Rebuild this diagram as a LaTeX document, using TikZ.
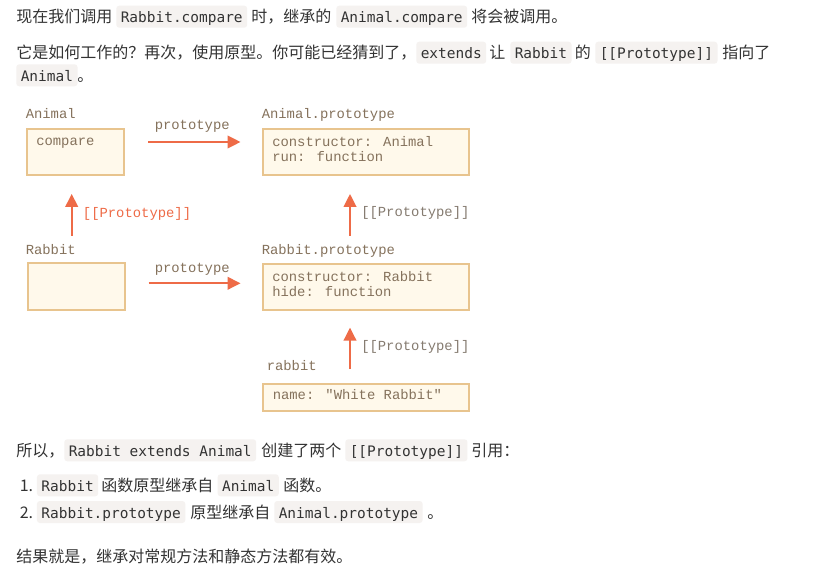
\documentclass[tikz,border=0pt]{standalone}
\usepackage{fontspec}
\setmainfont{Noto Sans CJK SC}
\newfontfamily\cjkf{Noto Sans CJK SC}
\newfontfamily\codef{DejaVu Sans Mono}
\newfontfamily\dgf{Liberation Mono}
\usetikzlibrary{arrows.meta,calc}
\definecolor{textc}{HTML}{333333}
\definecolor{codebg}{HTML}{F5F2F0}
\definecolor{boxfill}{HTML}{FFF9EB}
\definecolor{boxline}{HTML}{E8C48E}
\definecolor{arrc}{HTML}{EE6B47}
\definecolor{dgtext}{HTML}{85725C}
\definecolor{dggray}{HTML}{857B70}
\begin{document}
\begin{tikzpicture}[x=0.75pt,y=-0.75pt,
  txt/.style={anchor=base west,inner sep=0pt,font=\cjkf\fontsize{12pt}{14pt}\selectfont,text=textc},
  code/.style={anchor=base west,inner xsep=3.375pt,inner ysep=0pt,text height=12.75pt,text depth=3.75pt,fill=codebg,rounded corners=2.25pt,font=\codef\fontsize{10.85pt}{13pt}\selectfont,text=textc},
  dlabel/.style={anchor=base west,inner sep=0pt,font=\dgf\fontsize{10.4pt}{12pt}\selectfont,text=dgtext},
  plabel/.style={dlabel,text=dggray},
  rlabel/.style={dlabel,text=arrc},
  objbox/.style={draw=boxline,fill=boxfill,line width=1.5pt,anchor=north west,inner sep=0pt},
  arr/.style={draw=arrc,line width=1.5pt,-{Triangle[length=9.75pt,width=9.5pt]}}]
\fill[white] (0,0) rectangle (838,573);
\useasboundingbox (0,0) rectangle (838,573);

% ---- top paragraph
\node[txt] (t1) at (16,22.7) {现在我们调用};
\node[code] (c1) at (116,22.7) {Rabbit.compare};
\node[txt] (t2) at (251,22.7) {时，继承的};
\node[code] (c2) at (336,22.7) {Animal.compare};
\node[txt] (t3) at (471,22.7) {将会被调用。};

\node[txt] (t4) at (16,58.7) {它是如何工作的？再次，使用原型。你可能已经猜到了，};
\node[code] (c3) at (416,58.7) {extends};
\node[txt] (t5) at (489,58.7) {让};
\node[code] (c4) at (510,58.7) {Rabbit};
\node[txt] (t6) at (574.5,58.7) {的};
\node[code] (c5) at (595,58.7) {[[Prototype]]};
\node[txt] (t7) at (722,58.7) {指向了};
\node[code] (c6) at (16,81.3) {Animal};
\node[txt] (t8) at (77,81.3) {。};

% ---- diagram boxes
\node[objbox,minimum width=73pt,minimum height=34.7pt] (A) at (26,127.7) {};
\node[objbox,minimum width=154.5pt,minimum height=34.7pt] (AP) at (261.7,127.7) {};
\node[objbox,minimum width=73pt,minimum height=35pt] (R) at (26.5,262.3) {};
\node[objbox,minimum width=154.5pt,minimum height=34.7pt] (RP) at (261.7,262.7) {};
\node[objbox,minimum width=154.5pt,minimum height=20.25pt] (r) at (261.7,382.7) {};

% labels above boxes
\node[dlabel] (lA) at (25.5,119) {Animal};
\node[dlabel] (lAP) at (261.5,119) {Animal.prototype};
\node[dlabel] (lR) at (25.5,255) {Rabbit};
\node[dlabel] (lRP) at (261.5,255) {Rabbit.prototype};
\node[dlabel] (lr) at (266.5,370.7) {rabbit};

% box contents
\node[dlabel] (xA) at (36,146) {compare};
\node[dlabel] (xAP1) at (272,146.7) {constructor: Animal};
\node[dlabel] (xAP2) at (272,161.7) {run: function};
\node[dlabel] (xRP1) at (272,281.7) {constructor: Rabbit};
\node[dlabel] (xRP2) at (272,296.7) {hide: function};
\node[dlabel] (xr) at (272.5,399.3) {name: "White Rabbit"};

% arrows
\draw[arr] ($(A.north east)+(22.7,14.3)$) -- ($(AP.north west)+(-21.2,14.3)$);
\draw[arr] ($(R.north east)+(22.7,21)$) -- ($(RP.north west)+(-21.2,20.6)$);
\draw[arr] ($(R.north west)+(45.2,-26.3)$) -- ($(A.south west)+(45.7,18)$);
\draw[arr] ($(RP.north west)+(88.3,-26.7)$) -- ($(AP.south west)+(88.3,18)$);
\draw[arr] ($(r.north west)+(88.3,-13.7)$) -- ($(RP.south west)+(88.3,16.7)$);

% arrow labels
\node[dlabel] (p1) at (154.5,130) {prototype};
\node[dlabel] (p2) at (154.5,272.7) {prototype};
\node[rlabel] (q1) at (82.7,218) {[[Prototype]]};
\node[plabel] (q2) at (361,217) {[[Prototype]]};
\node[plabel] (q3) at (361,350.7) {[[Prototype]]};

% ---- bottom paragraph
\node[txt] (t9) at (16,456.3) {所以，};
\node[code] (c7) at (64,456.3) {Rabbit extends Animal};
\node[txt] (t10) at (261,456.3) {创建了两个};
\node[code] (c8) at (345,456.3) {[[Prototype]]};
\node[txt] (t11) at (471,456.3) {引用：};

\node[txt] (n1) at (19.5,491.3) {1.};
\node[code] (c9) at (36.7,491.3) {Rabbit};
\node[txt] (t12) at (101,491.3) {函数原型继承自};
\node[code] (c10) at (217.3,491.3) {Animal};
\node[txt] (t13) at (283,491.3) {函数。};

\node[txt] (n2) at (19.5,518) {2.};
\node[code] (c11) at (36.7,518) {Rabbit.prototype};
\node[txt] (t14) at (190,518) {原型继承自};
\node[code] (c12) at (274,518) {Animal.prototype};
\node[txt] (t15) at (427,518) {。};

\node[txt] (t16) at (16,562.4) {结果就是，继承对常规方法和静态方法都有效。};
\end{tikzpicture}
\end{document}
